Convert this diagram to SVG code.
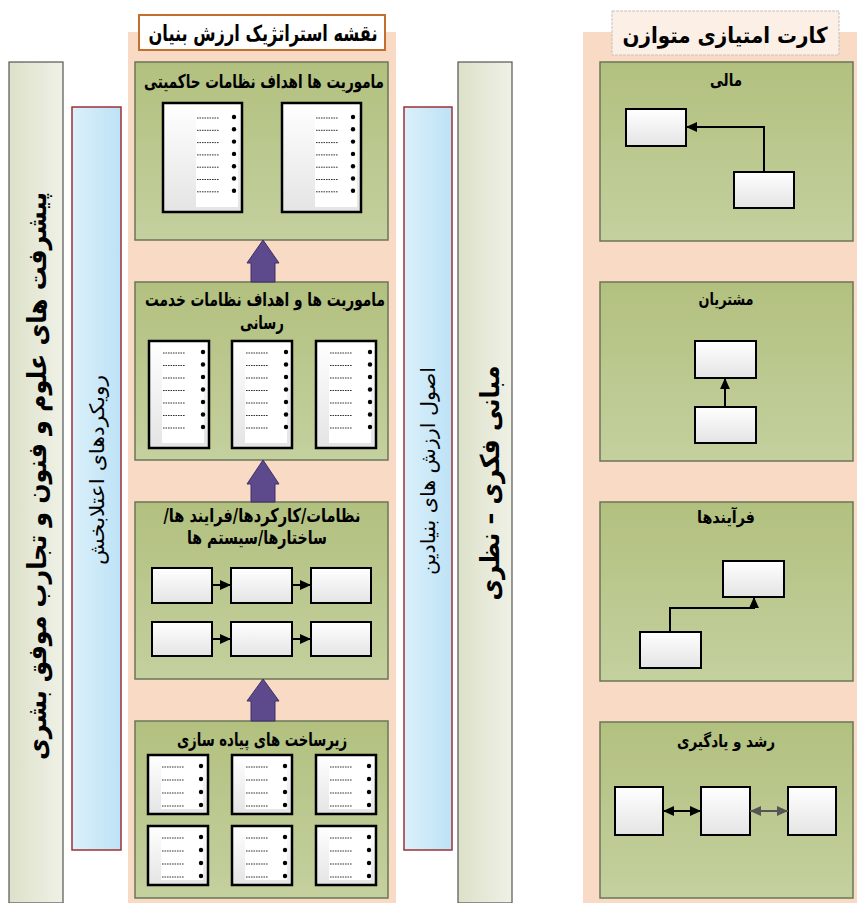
<svg xmlns="http://www.w3.org/2000/svg" xmlns:xlink="http://www.w3.org/1999/xlink" width="857" height="903" viewBox="0 0 857 903">
<style>
.peach{fill:#f9dbc5}
.green{fill:url(#greenG);stroke:#6b7658;stroke-width:1.5}
.doc{fill:url(#docG);stroke:#000;stroke-width:2.5}
.panel{fill:#fff}
.dash{stroke:#333;stroke-width:1;stroke-dasharray:1.6 0.9}
.bul{fill:#000}
.box{fill:url(#docG);stroke:#000;stroke-width:2}
.gbar{fill:url(#grayG);stroke:#555;stroke-width:1.2}
.bbar{fill:url(#blueG);stroke:#9c3236;stroke-width:1.5}
.t{font-family:"DejaVu Sans",sans-serif;font-weight:bold;text-anchor:middle;fill:#000}
.tr{font-family:"DejaVu Sans",sans-serif;font-weight:normal;text-anchor:middle;fill:#000}
.conn{stroke:#000;stroke-width:2;fill:none}
.conng{stroke:#555;stroke-width:2;fill:none}
.big{fill:#5d4a8c;stroke:#3d2f66;stroke-width:1}
</style>
<defs>
<linearGradient id="greenG" x1="0" y1="0" x2="0" y2="1"><stop offset="0" stop-color="#b2c07f"/><stop offset="1" stop-color="#c4d09e"/></linearGradient>
<linearGradient id="docG" x1="0" y1="0" x2="0" y2="1"><stop offset="0" stop-color="#ffffff"/><stop offset="1" stop-color="#e4e4e4"/></linearGradient>
<linearGradient id="grayG" x1="0" y1="0" x2="1" y2="0"><stop offset="0" stop-color="#dce1c9"/><stop offset="1" stop-color="#eff1e6"/></linearGradient>
<linearGradient id="blueG" x1="0" y1="0" x2="1" y2="0"><stop offset="0" stop-color="#dbf0fb"/><stop offset="1" stop-color="#bde2f6"/></linearGradient>
<marker id="ah" markerUnits="userSpaceOnUse" markerWidth="11" markerHeight="11" viewBox="0 0 10 10" refX="10" refY="5" orient="auto-start-reverse"><path d="M0,0.5 L10,5 L0,9.5 Z" fill="#000"/></marker>
<marker id="ahg" markerUnits="userSpaceOnUse" markerWidth="11" markerHeight="11" viewBox="0 0 10 10" refX="10" refY="5" orient="auto-start-reverse"><path d="M0,0.5 L10,5 L0,9.5 Z" fill="#555"/></marker>
<g id="rows7w">
<line class="dash" x1="34" x2="56" y1="15" y2="15"/><circle class="bul" cx="71" cy="14" r="2.2"/>
<line class="dash" x1="34" x2="56" y1="27.3" y2="27.3"/><circle class="bul" cx="71" cy="26.3" r="2.2"/>
<line class="dash" x1="34" x2="56" y1="39.6" y2="39.6"/><circle class="bul" cx="71" cy="38.6" r="2.2"/>
<line class="dash" x1="34" x2="56" y1="51.9" y2="51.9"/><circle class="bul" cx="71" cy="50.9" r="2.2"/>
<line class="dash" x1="34" x2="56" y1="64.2" y2="64.2"/><circle class="bul" cx="71" cy="63.2" r="2.2"/>
<line class="dash" x1="34" x2="56" y1="76.5" y2="76.5"/><circle class="bul" cx="71" cy="75.5" r="2.2"/>
<line class="dash" x1="34" x2="56" y1="88.8" y2="88.8"/><circle class="bul" cx="71" cy="87.8" r="2.2"/>
</g>
<g id="docWide">
<rect class="doc" x="0" y="0" width="79" height="109"/>
<rect class="panel" x="33" y="4" width="42" height="100"/>
<use xlink:href="#rows7w"/>
</g>
<g id="docTall">
<rect class="doc" x="0" y="0" width="60" height="107"/>
<rect class="panel" x="13" y="4" width="42" height="98"/>
<line class="dash" x1="14" x2="36" y1="12" y2="12"/><circle class="bul" cx="54" cy="11" r="2.2"/>
<line class="dash" x1="14" x2="36" y1="24.5" y2="24.5"/><circle class="bul" cx="54" cy="23.5" r="2.2"/>
<line class="dash" x1="14" x2="36" y1="37" y2="37"/><circle class="bul" cx="54" cy="36" r="2.2"/>
<line class="dash" x1="14" x2="36" y1="49.5" y2="49.5"/><circle class="bul" cx="54" cy="48.5" r="2.2"/>
<line class="dash" x1="14" x2="36" y1="62" y2="62"/><circle class="bul" cx="54" cy="61" r="2.2"/>
<line class="dash" x1="14" x2="36" y1="74.5" y2="74.5"/><circle class="bul" cx="54" cy="73.5" r="2.2"/>
<line class="dash" x1="14" x2="36" y1="87" y2="87"/><circle class="bul" cx="54" cy="86" r="2.2"/>
</g>
<g id="docShort">
<rect class="doc" x="0" y="0" width="60" height="59"/>
<rect class="panel" x="13" y="4" width="42" height="50"/>
<line class="dash" x1="14" x2="36" y1="12" y2="12"/><circle class="bul" cx="53" cy="11" r="2.2"/>
<line class="dash" x1="14" x2="36" y1="25" y2="25"/><circle class="bul" cx="53" cy="24" r="2.2"/>
<line class="dash" x1="14" x2="36" y1="38" y2="38"/><circle class="bul" cx="53" cy="37" r="2.2"/>
<line class="dash" x1="14" x2="36" y1="51" y2="51"/><circle class="bul" cx="53" cy="50" r="2.2"/>
</g>
</defs>
<rect width="857" height="903" fill="#fff"/>

<!-- backgrounds -->
<rect id="bg-center" class="peach" x="128" y="32" width="268" height="871"/>
<rect id="bg-right" class="peach" x="583" y="32" width="274" height="871"/>

<g id="bar-left-gray">
<rect class="gbar" x="9" y="62" width="54" height="841"/>
<text class="t" font-size="26" direction="rtl" transform="translate(37,476) rotate(-90)" y="9" textLength="568" lengthAdjust="spacingAndGlyphs">پیشرفت های علوم و فنون و تجارب موفق بشری</text>
</g>
<g id="bar-left-blue">
<rect class="bbar" x="72" y="107" width="49" height="743"/>
<text class="tr" font-size="20" direction="rtl" transform="translate(97,470) rotate(-90)" y="7" textLength="190" lengthAdjust="spacingAndGlyphs">رویکردهای اعتلابخش</text>
</g>
<g id="bar-right-blue">
<rect class="bbar" x="404" y="107" width="48" height="743"/>
<text class="tr" font-size="20" direction="rtl" transform="translate(428,471) rotate(-90)" y="7" textLength="208" lengthAdjust="spacingAndGlyphs">اصول ارزش های بنیادین</text>
</g>
<g id="bar-right-gray">
<rect class="gbar" x="458" y="62" width="54" height="841"/>
<text class="t" font-size="26" direction="rtl" transform="translate(490,483) rotate(-90)" y="9" textLength="235" lengthAdjust="spacingAndGlyphs">مبانی فکری – نظری</text>
</g>

<g id="header-center">
<rect x="139" y="15" width="246" height="35" fill="#fff" stroke="#c56f2c" stroke-width="2"/>
<text class="t" font-size="22" direction="rtl" x="263" y="41" textLength="229" lengthAdjust="spacingAndGlyphs">نقشه استراتژیک ارزش بنیان</text>
</g>

<g id="box-governance">
<rect class="green" x="135" y="62" width="253" height="178"/>
<text class="t" font-size="19" direction="rtl" x="264" y="88" textLength="240" lengthAdjust="spacingAndGlyphs">ماموریت ها اهداف نظامات حاکمیتی</text>
<use xlink:href="#docWide" x="163" y="103"/>
<use xlink:href="#docWide" x="282" y="103"/>
</g>

<g id="box-service">
<rect class="green" x="135" y="282" width="253" height="178"/>
<text class="t" font-size="19" direction="rtl" x="265" y="306" textLength="240" lengthAdjust="spacingAndGlyphs">ماموریت ها و اهداف نظامات خدمت</text>
<text class="t" font-size="19" direction="rtl" x="262" y="329" textLength="44" lengthAdjust="spacingAndGlyphs">رسانی</text>
<use xlink:href="#docTall" x="149" y="341"/>
<use xlink:href="#docTall" x="232" y="341"/>
<use xlink:href="#docTall" x="316" y="341"/>
</g>

<g id="box-systems">
<rect class="green" x="135" y="502" width="253" height="177"/>
<text class="t" font-size="19" direction="rtl" x="262" y="522" textLength="197" lengthAdjust="spacingAndGlyphs">نظامات/کارکردها/فرایند ها/</text>
<text class="t" font-size="19" direction="rtl" x="257" y="544" textLength="140" lengthAdjust="spacingAndGlyphs">ساختارها/سیستم ها</text>
<rect class="box" x="152" y="568" width="60" height="35"/>
<rect class="box" x="231" y="568" width="61" height="35"/>
<rect class="box" x="311" y="568" width="60" height="35"/>
<rect class="box" x="152" y="622" width="60" height="34"/>
<rect class="box" x="231" y="622" width="61" height="34"/>
<rect class="box" x="311" y="622" width="60" height="34"/>
</g>

<g id="box-infra">
<rect class="green" x="135" y="721" width="253" height="177"/>
<text class="t" font-size="19" direction="rtl" x="262" y="746" textLength="170" lengthAdjust="spacingAndGlyphs">زیرساخت های پیاده سازی</text>
<use xlink:href="#docShort" x="148" y="755"/>
<use xlink:href="#docShort" x="232" y="755"/>
<use xlink:href="#docShort" x="316" y="755"/>
<use xlink:href="#docShort" x="148" y="826"/>
<use xlink:href="#docShort" x="232" y="826"/>
<use xlink:href="#docShort" x="316" y="826"/>
</g>

<g id="header-right">
<rect x="612" y="11" width="227" height="44" fill="#fcefe6" stroke="#c9c1bb" stroke-width="1" stroke-dasharray="3 1"/>
<text class="t" font-size="22" direction="rtl" x="725" y="43" textLength="205" lengthAdjust="spacingAndGlyphs">کارت امتیازی متوازن</text>
</g>

<g id="box-financial">
<rect class="green" x="600" y="62" width="253" height="179"/>
<text class="t" font-size="17" direction="rtl" x="726" y="86" textLength="32" lengthAdjust="spacingAndGlyphs">مالی</text>
<rect class="box" x="626" y="109" width="60" height="37"/>
<rect class="box" x="734" y="172" width="60" height="36"/>
</g>

<g id="box-customers">
<rect class="green" x="600" y="282" width="253" height="179"/>
<text class="t" font-size="17" direction="rtl" x="726" y="305" textLength="55" lengthAdjust="spacingAndGlyphs">مشتریان</text>
<rect class="box" x="695" y="341" width="61" height="37"/>
<rect class="box" x="695" y="407" width="61" height="36"/>
</g>

<g id="box-processes">
<rect class="green" x="600" y="502" width="253" height="179"/>
<text class="t" font-size="17" direction="rtl" x="726" y="523" textLength="58" lengthAdjust="spacingAndGlyphs">فرآیندها</text>
<rect class="box" x="723" y="561" width="61" height="36"/>
<rect class="box" x="640" y="632" width="61" height="36"/>
</g>

<g id="box-learning">
<rect class="green" x="600" y="722" width="253" height="176"/>
<text class="t" font-size="17" direction="rtl" x="726" y="747" textLength="98" lengthAdjust="spacingAndGlyphs">رشد و یادگیری</text>
<rect class="box" x="615" y="787" width="48" height="48"/>
<rect class="box" x="701" y="787" width="49" height="48"/>
<rect class="box" x="788" y="787" width="48" height="48"/>
</g>

<g id="connectors">
<polygon class="big" points="263,240 279,263 275,263 275,282 251,282 251,263 247,263"/>
<polygon class="big" points="263,460 279,484 275,484 275,502 251,502 251,484 247,484"/>
<polygon class="big" points="263,679 279,701 275,701 275,721 251,721 251,701 247,701"/>
<path class="conn" d="M212,585 H231" marker-end="url(#ah)"/>
<path class="conn" d="M292,585 H311" marker-end="url(#ah)"/>
<path class="conn" d="M212,639 H231" marker-end="url(#ah)"/>
<path class="conn" d="M292,639 H311" marker-end="url(#ah)"/>
<path class="conn" d="M764,172 V127 H686" marker-end="url(#ah)"/>
<path class="conn" d="M725,407 V378" marker-end="url(#ah)"/>
<path class="conn" d="M670,632 V608 H754 V597" marker-end="url(#ah)"/>
<path class="conn" d="M663,811 H701" marker-start="url(#ah)" marker-end="url(#ah)"/>
<path class="conng" d="M750,811 H788" marker-start="url(#ahg)" marker-end="url(#ahg)"/>
</g>
</svg>
